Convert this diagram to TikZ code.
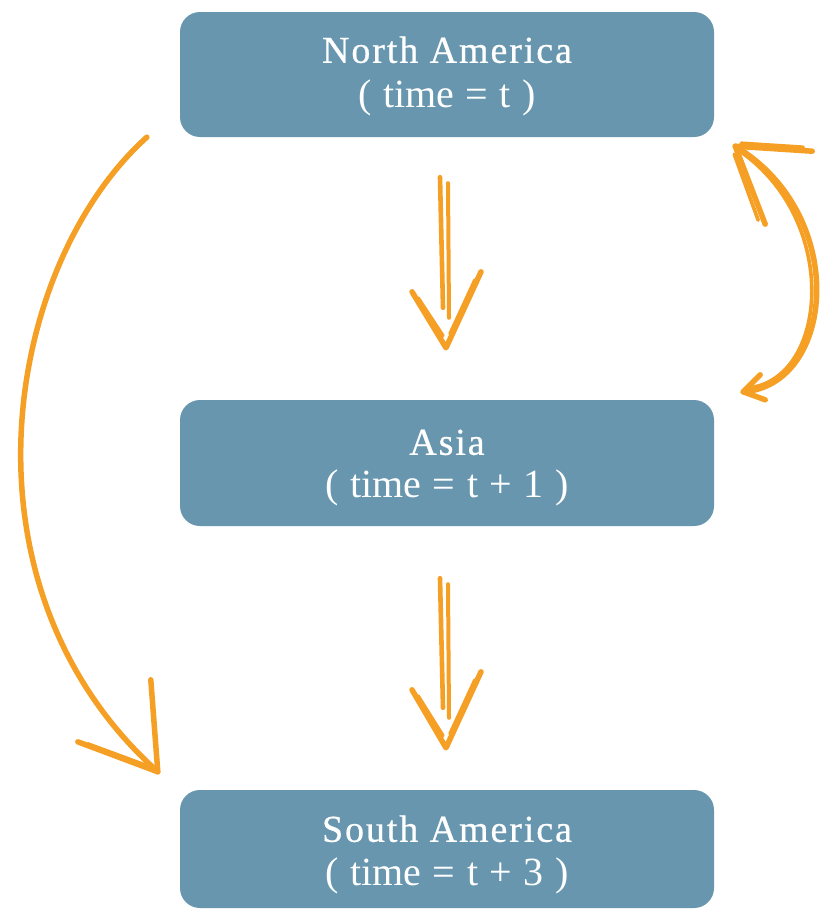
\documentclass[tikz,border=0pt]{standalone}
\usepackage{fontspec}
\setmainfont{Liberation Serif}
\newfontfamily\titlefont[LetterSpace=5,FakeBold=0.6]{Liberation Serif}
\newfontfamily\subfont[WordSpace=1.15]{Liberation Serif}
\usetikzlibrary{calc}
\definecolor{boxblue}{RGB}{103,150,174}
\definecolor{arrorange}{RGB}{245,160,36}
\begin{document}
\begin{tikzpicture}[x=1pt,y=-1pt,
  region/.style={fill=boxblue, rounded corners=20pt, minimum width=534pt,
    minimum height=125pt, inner sep=0pt},
  title/.style={anchor=base, inner sep=0pt, text=white,
    font=\titlefont\fontsize{38}{45}\selectfont},
  subtitle/.style={anchor=base, inner sep=0pt, text=white,
    font=\subfont\fontsize{40}{48}\selectfont},
  sketch/.style={draw=arrorange, line width=5.5pt, line cap=round, line join=round},
  thin sketch/.style={draw=arrorange, line width=3.6pt, line cap=round, line join=round}]
\useasboundingbox (0,0) rectangle (823,910);
\fill[white] (0,0) rectangle (823,910);

% boxes
\node[region] (na) at (447,74.5) {};
\node[region, minimum height=126pt] (asia) at (447,463) {};
\node[region, minimum height=118pt] (sa) at (447,849) {};

% texts
\node[title] (nat) at ($(na.north)+(0,51)$) {North America};
\node[subtitle] (nas) at ($(na.north)+(0,96)$) {( time = t )};
\node[title] (ast) at ($(asia.north)+(0,55)$) {Asia};
\node[subtitle] (ass) at ($(asia.north)+(0,98)$) {( time = t + 1 )};
\node[title] (sat) at ($(sa.north)+(0,52)$) {South America};
\node[subtitle] (sas) at ($(sa.north)+(0,96)$) {( time = t + 3 )};

% down arrow 1
\coordinate (d1s) at ($(na.south)+(-7,40)$);
\coordinate (d1e) at ($(asia.north)+(-1,-52)$);
\draw[thin sketch, line width=4.6pt] (d1s) -- ($(d1e)+(-3,-40)$);
\draw[thin sketch, line width=4pt] ($(d1s)+(8,6)$) -- ($(d1e)+(3,-30)$);
\draw[sketch] ($(d1e)+(-34,-56)$) -- (d1e) -- ($(d1e)+(35,-76)$);
\draw[thin sketch] ($(d1e)+(-28,-50)$) -- ($(d1e)+(-3,-12)$);
\draw[thin sketch] ($(d1e)+(29,-68)$) -- ($(d1e)+(4,-14)$);

% down arrow 2
\coordinate (d2s) at ($(asia.south)+(-7,52)$);
\coordinate (d2e) at ($(sa.north)+(-1,-42)$);
\draw[thin sketch, line width=4.6pt] (d2s) -- ($(d2e)+(-3,-40)$);
\draw[thin sketch, line width=4pt] ($(d2s)+(8,6)$) -- ($(d2e)+(3,-30)$);
\draw[sketch] ($(d2e)+(-34,-58)$) -- (d2e) -- ($(d2e)+(35,-76)$);
\draw[thin sketch] ($(d2e)+(-28,-52)$) -- ($(d2e)+(-3,-12)$);
\draw[thin sketch] ($(d2e)+(29,-68)$) -- ($(d2e)+(4,-14)$);

% left arc NA -> SA
\coordinate (ls) at ($(na.south west)+(-33,0)$);
\coordinate (le) at ($(sa.north west)+(-22,-18)$);
\draw[sketch] (ls) .. controls (5,265) and (-50,585) .. (le);
\draw[sketch] ($(le)+(-80,-30)$) -- (le) -- ($(le)+(-7,-92)$);
\draw[thin sketch] ($(le)+(-70,-28)$) -- ($(le)+(-5,-4)$);

% right arc Asia <-> NA
\coordinate (rb) at ($(asia.north east)+(29,-8)$);
\coordinate (rt) at ($(na.south east)+(21,9)$);
\draw[sketch] (rb) .. controls (835,385) and (850,215) .. (rt);
\draw[thin sketch] ($(rb)+(6,-4)$) .. controls (828,378) and (840,222) .. ($(rt)+(6,6)$);
\draw[sketch] ($(rt)+(77,5)$) -- (rt) -- ($(rt)+(30,78)$);
\draw[thin sketch] ($(rt)+(68,1)$) -- ($(rt)+(6,-3)$);
\draw[thin sketch] ($(rt)+(23,74)$) -- ($(rt)+(-1,8)$);
\draw[sketch] ($(rb)+(17,-17)$) -- (rb) -- ($(rb)+(22,8)$);
\end{tikzpicture}
\end{document}
